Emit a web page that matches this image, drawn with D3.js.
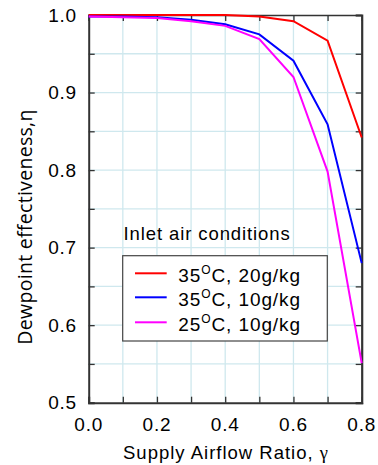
<!DOCTYPE html>
<html>
<head>
<meta charset="utf-8">
<script src="https://cdn.jsdelivr.net/npm/d3@7"></script>
<style>
  html, body { margin: 0; padding: 0; background: #fff; }
  svg { display: block; }
  text { font-family: "Liberation Sans", Arial, Helvetica, sans-serif; fill: #000; }
</style>
</head>
<body>
<svg id="chart" width="378" height="465"></svg>
<script>
// Supply airflow ratio (x) and dewpoint effectiveness for each inlet condition
const ratio = [0.0, 0.1, 0.2, 0.3, 0.4, 0.5, 0.6, 0.7, 0.8];
const eta35c20g = [1.000, 1.000, 1.000, 1.000, 1.000, 0.998, 0.992, 0.967, 0.842];
const eta35c10g = [0.998, 0.998, 0.997, 0.994, 0.988, 0.975, 0.941, 0.859, 0.680];
const eta25c10g = [0.998, 0.997, 0.996, 0.992, 0.986, 0.969, 0.920, 0.798, 0.551];

const seriesNames = ["35", "35", "25"];
const seriesHumidity = ["20g/kg", "10g/kg", "10g/kg"];
const seriesColors = ["#ff0000", "#0000ff", "#ff00ff"];

const xTickLabels = ["0.0", "0.2", "0.4", "0.6", "0.8"];
const yTickLabels = ["0.5", "0.6", "0.7", "0.8", "0.9", "1.0"];

const svg = d3.select("#chart");
const m = { left: 88.7, right: 361.7, top: 15, bottom: 402.7 };

const x = d3.scaleLinear().domain([0, 0.8]).range([m.left, m.right]);
const y = d3.scaleLinear().domain([0.5, 1.0]).range([m.bottom, m.top]);

// Grid
const gridColor = "#cfe8ee";
const g = svg.append("g");
g.selectAll("line.vx").data(d3.range(1, 8).map(i => i / 10)).join("line")
  .attr("x1", d => x(d)).attr("x2", d => x(d))
  .attr("y1", m.top).attr("y2", m.bottom)
  .attr("stroke", gridColor).attr("stroke-width", 1.3);
g.selectAll("line.hy").data(d3.range(1, 10).map(i => 0.5 + i * 0.05)).join("line")
  .attr("y1", d => y(d)).attr("y2", d => y(d))
  .attr("x1", m.left).attr("x2", m.right)
  .attr("stroke", gridColor).attr("stroke-width", 1.3);

// Axes with inward ticks
const xTicks = d3.range(0, 9).map(i => i / 10);
const yTicks = d3.range(0, 11).map(i => 0.5 + i * 0.05);
const axisColor = "#333";

const bottomAxis = d3.axisBottom(x).tickValues(xTicks).tickSize(-6).tickFormat("");
const topAxis = d3.axisTop(x).tickValues(xTicks).tickSize(-6).tickFormat("");
const leftAxis = d3.axisLeft(y).tickValues(yTicks).tickSize(-6).tickFormat("");
const rightAxis = d3.axisRight(y).tickValues(yTicks).tickSize(-6).tickFormat("");

function styleAxis(sel, w) {
  sel.select(".domain").attr("stroke", axisColor).attr("stroke-width", w);
  sel.selectAll(".tick line").attr("stroke", axisColor).attr("stroke-width", 1.3);
}
styleAxis(svg.append("g").attr("transform", `translate(0,${m.bottom})`).call(bottomAxis), 2);
styleAxis(svg.append("g").attr("transform", `translate(0,${m.top})`).call(topAxis), 1.5);
styleAxis(svg.append("g").attr("transform", `translate(${m.left},0)`).call(leftAxis), 2);
styleAxis(svg.append("g").attr("transform", `translate(${m.right},0)`).call(rightAxis), 2.2);
svg.selectAll(".domain").attr("d", function () { return d3.select(this).attr("d").replace(/V-?6|V6/g, "V0"); });

// Tick labels
svg.append("g").selectAll("text").data(xTickLabels).join("text")
  .attr("x", d => x(+d)).attr("y", 431)
  .attr("text-anchor", "middle").attr("font-size", 19).attr("letter-spacing", 0.8)
  .text(d => d);
svg.append("g").selectAll("text").data(yTickLabels).join("text")
  .attr("x", 77).attr("y", d => y(+d) + 6.7)
  .attr("text-anchor", "end").attr("font-size", 19).attr("letter-spacing", 0.8)
  .text(d => d);

// Axis titles
svg.append("text")
  .attr("x", 226).attr("y", 459)
  .attr("text-anchor", "middle").attr("font-size", 18.5).attr("letter-spacing", 1)
  .html('Supply Airflow Ratio, <tspan font-family="Liberation Serif, Times New Roman, serif">γ</tspan>');
svg.append("text")
  .attr("transform", `translate(32,227) rotate(-90)`)
  .attr("text-anchor", "middle").attr("font-size", 19.5).attr("letter-spacing", 0.3)
  .style("font-family", "'Open Sans', 'Noto Sans', sans-serif")
  .text("Dewpoint effectiveness,η");

// Lines
const series = [eta35c20g, eta35c10g, eta25c10g];
const line = d3.line().x((d, i) => x(ratio[i])).y(d => y(d));
svg.append("g").selectAll("path").data(series).join("path")
  .attr("d", d => line(d))
  .attr("fill", "none")
  .attr("stroke", (d, i) => seriesColors[i])
  .attr("stroke-width", 2)
  .attr("stroke-linejoin", "miter");

// Legend
svg.append("text").attr("x", 123.5).attr("y", 240).attr("font-size", 18.5).attr("letter-spacing", 0.9)
  .text("Inlet air conditions");
svg.append("rect").attr("x", 122.7).attr("y", 255.7).attr("width", 204.6).attr("height", 85.3)
  .attr("fill", "#fff").attr("stroke", "#444").attr("stroke-width", 1.2);
const rowY = [273.3, 297.3, 322.3];
const leg = svg.append("g").selectAll("g").data(seriesNames).join("g");
leg.append("line")
  .attr("x1", 135).attr("x2", 166.7)
  .attr("y1", (d, i) => rowY[i]).attr("y2", (d, i) => rowY[i])
  .attr("stroke", (d, i) => seriesColors[i]).attr("stroke-width", 2);
const lt = leg.append("text")
  .attr("x", 178.3).attr("y", (d, i) => rowY[i] + 8.5)
  .attr("font-size", 19).attr("letter-spacing", 0.9);
lt.append("tspan").text(d => d);
lt.append("tspan").attr("font-size", 12).attr("dy", -7.5).text("O");
lt.append("tspan").attr("dy", 7.5).text((d, i) => "C, " + seriesHumidity[i]);
</script>
</body>
</html>
